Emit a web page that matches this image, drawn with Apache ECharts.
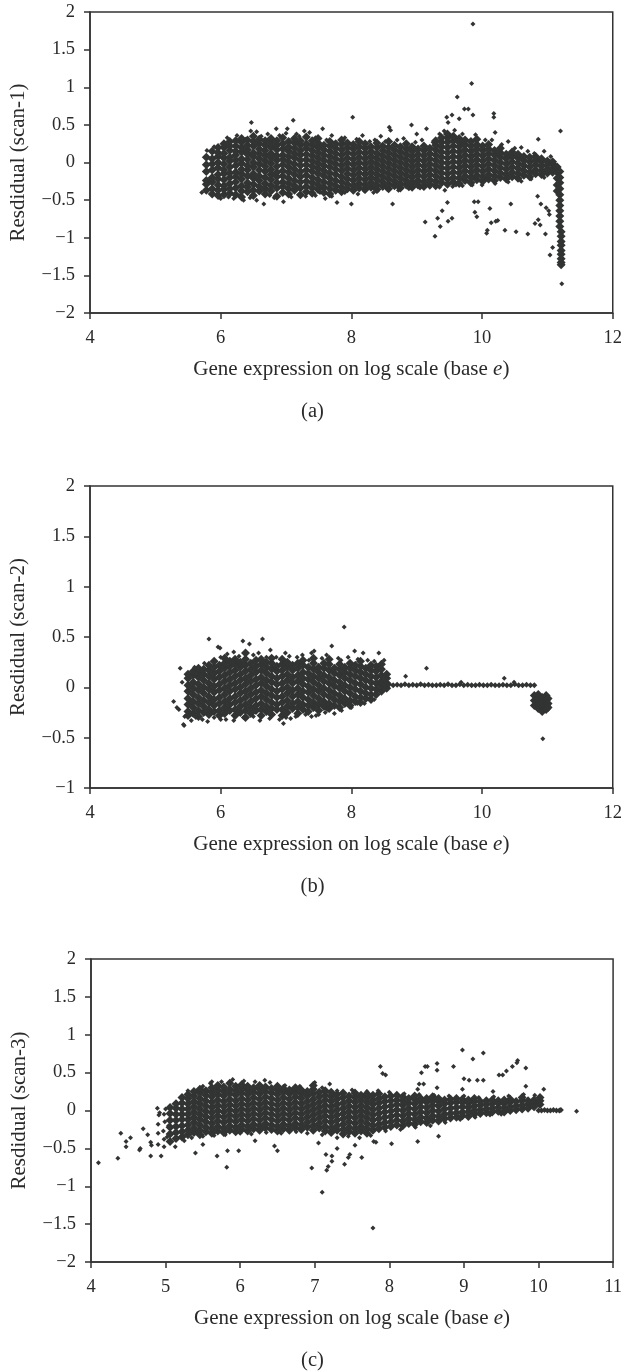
<!DOCTYPE html>
<html>
<head>
<meta charset="utf-8">
<style>
html,body{margin:0;padding:0;background:#fff;}
#chart{width:625px;height:1371px;}
</style>
<script src="https://cdn.jsdelivr.net/npm/echarts@6/dist/echarts.min.js"></script>
</head>
<body>
<div id="chart"></div>
<script>
// ---------- Panel (a): scan-1 ----------
const xTicksA = [4, 6, 8, 10, 12];
const yTicksA = [-2, -1.5, -1, -0.5, 0, 0.5, 1, 1.5, 2];
// dense cloud, columns of [x, [residuals...]]
const cloudA = [
 [5.78,[-0.37,-0.29,-0.24,-0.12,-0.03,0.07]],
 [5.87,[-0.42,-0.35,-0.26,-0.2,-0.1,-0.02,0.05,0.15]],
 [5.96,[-0.44,-0.37,-0.3,-0.22,-0.16,-0.07,0.0,0.08,0.13,0.2]],
 [6.05,[-0.43,-0.36,-0.31,-0.23,-0.15,-0.1,-0.02,0.06,0.12,0.2,0.25]],
 [6.14,[-0.41,-0.35,-0.28,-0.2,-0.14,-0.06,0.02,0.07,0.16,0.22,0.28]],
 [6.23,[-0.43,-0.34,-0.26,-0.19,-0.13,-0.04,0.03,0.1,0.15,0.22,0.29]],
 [6.32,[-0.46,-0.38,-0.31,-0.22,-0.15,-0.09,-0.01,0.05,0.14,0.2,0.27,0.32]],
 [6.41,[-0.39,-0.33,-0.27,-0.18,-0.1,-0.04,0.04,0.11,0.17,0.23,0.3]],
 [6.5,[-0.44,-0.37,-0.29,-0.21,-0.15,-0.06,0.0,0.08,0.13,0.22,0.28,0.35]],
 [6.59,[-0.38,-0.32,-0.24,-0.18,-0.1,-0.02,0.05,0.12,0.18,0.25,0.31]],
 [6.68,[-0.42,-0.35,-0.28,-0.2,-0.12,-0.05,0.02,0.09,0.16,0.23,0.29]],
 [6.77,[-0.38,-0.31,-0.23,-0.16,-0.09,-0.01,0.06,0.12,0.2,0.26,0.32]],
 [6.86,[-0.45,-0.34,-0.27,-0.19,-0.13,-0.05,0.03,0.09,0.17,0.23,0.29]],
 [6.95,[-0.4,-0.32,-0.26,-0.18,-0.11,-0.03,0.04,0.1,0.18,0.25,0.33]],
 [7.04,[-0.42,-0.35,-0.28,-0.21,-0.13,-0.06,0.01,0.08,0.15,0.21,0.28]],
 [7.13,[-0.37,-0.31,-0.24,-0.16,-0.09,-0.02,0.06,0.12,0.19,0.26,0.32]],
 [7.22,[-0.43,-0.34,-0.26,-0.19,-0.12,-0.04,0.03,0.1,0.16,0.23,0.29]],
 [7.31,[-0.39,-0.32,-0.25,-0.17,-0.1,-0.03,0.04,0.11,0.19,0.25,0.34]],
 [7.4,[-0.41,-0.34,-0.27,-0.2,-0.12,-0.05,0.02,0.09,0.16,0.23,0.29]],
 [7.49,[-0.36,-0.3,-0.23,-0.15,-0.08,-0.01,0.06,0.13,0.2,0.26,0.32]],
 [7.58,[-0.4,-0.33,-0.26,-0.18,-0.11,-0.04,0.03,0.1,0.17,0.23]],
 [7.67,[-0.42,-0.35,-0.28,-0.21,-0.14,-0.06,0.01,0.08,0.15,0.22,0.28]],
 [7.76,[-0.37,-0.31,-0.24,-0.16,-0.09,-0.02,0.05,0.12,0.19,0.25]],
 [7.85,[-0.39,-0.33,-0.26,-0.19,-0.11,-0.04,0.03,0.1,0.17,0.24,0.3]],
 [7.94,[-0.35,-0.29,-0.22,-0.15,-0.08,-0.01,0.06,0.13,0.2,0.26]],
 [8.03,[-0.37,-0.31,-0.24,-0.17,-0.1,-0.03,0.04,0.11,0.18,0.24]],
 [8.12,[-0.34,-0.28,-0.21,-0.14,-0.07,0.0,0.07,0.14,0.21,0.28]],
 [8.21,[-0.36,-0.3,-0.23,-0.16,-0.09,-0.02,0.05,0.12,0.19,0.25]],
 [8.3,[-0.33,-0.27,-0.2,-0.13,-0.06,0.01,0.08,0.15,0.21]],
 [8.39,[-0.36,-0.3,-0.23,-0.16,-0.09,-0.02,0.05,0.12,0.2,0.26]],
 [8.48,[-0.32,-0.26,-0.19,-0.12,-0.05,0.02,0.09,0.16,0.22]],
 [8.57,[-0.35,-0.29,-0.22,-0.15,-0.08,-0.01,0.06,0.13,0.2,0.28]],
 [8.66,[-0.31,-0.25,-0.18,-0.11,-0.04,0.03,0.1,0.17,0.23]],
 [8.75,[-0.34,-0.28,-0.21,-0.14,-0.07,0.0,0.07,0.14,0.21]],
 [8.84,[-0.3,-0.24,-0.17,-0.1,-0.03,0.04,0.11,0.18,0.25]],
 [8.93,[-0.33,-0.27,-0.2,-0.13,-0.06,0.01,0.08,0.15,0.21]],
 [9.02,[-0.3,-0.24,-0.17,-0.1,-0.03,0.04,0.11,0.18]],
 [9.11,[-0.32,-0.26,-0.19,-0.12,-0.05,0.02,0.09,0.16,0.22]],
 [9.2,[-0.29,-0.23,-0.16,-0.09,-0.02,0.05,0.12,0.19]],
 [9.29,[-0.31,-0.25,-0.18,-0.11,-0.04,0.03,0.1,0.17,0.23,0.29]],
 [9.38,[-0.27,-0.21,-0.14,-0.07,0.0,0.07,0.14,0.21,0.27,0.33]],
 [9.47,[-0.29,-0.22,-0.15,-0.08,-0.01,0.06,0.13,0.2,0.27,0.33,0.38]],
 [9.56,[-0.26,-0.2,-0.13,-0.06,0.01,0.08,0.15,0.22,0.29,0.35]],
 [9.65,[-0.28,-0.21,-0.14,-0.07,0.0,0.07,0.14,0.21,0.27,0.32]],
 [9.74,[-0.24,-0.18,-0.11,-0.04,0.03,0.1,0.17,0.24,0.3]],
 [9.83,[-0.27,-0.2,-0.13,-0.06,0.01,0.08,0.15,0.22,0.28]],
 [9.92,[-0.23,-0.17,-0.1,-0.03,0.04,0.11,0.18,0.24,0.31]],
 [10.01,[-0.25,-0.19,-0.12,-0.05,0.02,0.09,0.16,0.22]],
 [10.1,[-0.22,-0.16,-0.09,-0.02,0.05,0.12,0.18,0.24]],
 [10.19,[-0.24,-0.18,-0.11,-0.04,0.03,0.1,0.16]],
 [10.28,[-0.2,-0.14,-0.07,0.0,0.07,0.13,0.19]],
 [10.37,[-0.22,-0.16,-0.09,-0.02,0.05,0.11]],
 [10.46,[-0.19,-0.13,-0.06,0.01,0.08,0.14]],
 [10.55,[-0.21,-0.15,-0.08,-0.01,0.06,0.11]],
 [10.64,[-0.17,-0.11,-0.04,0.03,0.08]],
 [10.73,[-0.19,-0.13,-0.06,0.01,0.07]],
 [10.82,[-0.15,-0.1,-0.03,0.03,0.08]],
 [10.91,[-0.16,-0.11,-0.05,0.01,0.05]],
 [11.0,[-0.14,-0.09,-0.03,0.02]],
 [11.08,[-0.13,-0.08,-0.02,0.01]],
 [11.15,[-0.06,-0.13,-0.21,-0.3,-0.38]],
 [11.19,[-0.12,-0.2,-0.27,-0.35,-0.43,-0.5,-0.57,-0.64,-0.71,-0.78,-0.85]],
 [11.21,[-0.92,-0.98,-1.05,-1.1,-1.17,-1.22,-1.28,-1.33,-1.36]]
];
// ragged edge of the cloud
const fringeA = [
 [6.1,0.33],[6.25,0.36],[6.38,0.31],[6.55,0.41],[6.62,0.35],[6.72,0.38],[6.9,0.36],
 [7.0,0.39],[7.2,0.35],[7.36,0.4],[7.45,0.33],[7.62,0.3],[7.7,0.36],[7.9,0.33],
 [8.08,0.31],[8.17,0.36],[8.28,0.28],[8.36,0.3],[8.52,0.28],[8.7,0.3],[8.8,0.32],
 [8.98,0.27],[9.08,0.3],[9.25,0.27],[9.35,0.38],[9.42,0.42],[9.58,0.43],[9.7,0.38],
 [9.9,0.37],[10.05,0.3],[10.15,0.3],[10.3,0.24],[10.5,0.19],[10.7,0.15],[10.8,0.12],
 [11.05,0.08],
 [6.0,-0.48],[6.12,-0.46],[6.28,-0.44],[6.45,-0.47],[6.55,-0.5],[6.75,-0.44],[6.82,-0.47],
 [7.08,-0.46],[7.2,-0.43],[7.45,-0.44],[7.52,-0.4],[7.7,-0.45],[7.9,-0.4],[8.1,-0.42],
 [8.2,-0.38],[8.4,-0.38],[8.55,-0.36],[8.72,-0.37],[8.88,-0.35],[9.05,-0.34],[9.2,-0.33],
 [9.35,-0.33],[9.55,-0.32],[9.7,-0.31],[9.85,-0.3],[10.0,-0.3],[10.2,-0.28],[10.4,-0.26],
 [10.6,-0.25],[10.75,-0.22],[10.95,-0.2]
];
const outA = [
 [5.71,-0.40],[5.79,0.16],[5.83,-0.23],[5.9,0.21],[5.95,0.2],[6.2,-0.48],[6.35,-0.5],
 [6.47,0.53],[6.46,0.42],[6.66,-0.55],[6.96,-0.52],[6.85,0.45],[7.02,0.45],[7.11,0.56],
 [7.16,0.38],[7.28,0.42],[7.3,-0.45],[7.56,0.45],[7.6,-0.48],[7.78,-0.53],[8.02,0.6],
 [8.0,-0.55],[8.34,-0.4],[8.45,0.35],[8.58,0.47],[8.6,0.43],[8.63,-0.55],[8.92,0.5],
 [9.0,0.38],[9.15,0.45],[9.46,0.6],[9.48,0.53],[9.54,0.63],[9.62,0.87],[9.65,0.58],
 [9.73,0.71],[9.79,0.71],[9.84,1.05],[9.86,1.84],[9.86,0.63],[10.18,0.65],[10.18,0.6],
 [10.2,0.4],[10.4,0.28],[10.6,0.2],[10.86,0.31],[10.95,0.15],[11.2,0.42],
 [9.13,-0.79],[9.28,-0.98],[9.32,-0.74],[9.36,-0.85],[9.39,-0.64],[9.47,-0.53],
 [9.48,-0.78],[9.54,-0.74],[9.43,-0.37],[9.6,-0.3],[9.88,-0.52],[9.94,-0.52],[9.89,-0.66],
 [9.92,-0.72],[10.12,-0.61],[10.07,-0.94],[10.08,-0.9],[10.14,-0.8],[10.21,-0.78],
 [10.24,-0.77],[10.35,-0.9],[10.52,-0.92],[10.44,-0.55],[10.7,-0.95],[10.85,-0.45],
 [10.9,-0.55],[10.81,-0.81],[10.86,-0.76],[10.89,-0.83],[10.97,-0.95],[10.98,-0.6],
 [11.02,-0.64],[11.03,-0.69],[11.04,-1.23],[11.08,-1.13],[11.22,-1.61]
];

// ---------- Panel (b): scan-2 ----------
const xTicksB = [4, 6, 8, 10, 12];
const yTicksB = [-1, -0.5, 0, 0.5, 1, 1.5, 2];
const cloudB = [
 [5.5,[-0.28,-0.24,-0.17,-0.11,-0.04,0.02,0.09,0.13]],
 [5.58,[-0.26,-0.2,-0.14,-0.07,-0.01,0.05,0.12,0.16]],
 [5.66,[-0.29,-0.23,-0.16,-0.1,-0.03,0.03,0.1,0.15,0.19]],
 [5.74,[-0.25,-0.19,-0.13,-0.06,0.0,0.07,0.13,0.18]],
 [5.82,[-0.27,-0.22,-0.15,-0.09,-0.02,0.04,0.11,0.17,0.22]],
 [5.9,[-0.24,-0.18,-0.12,-0.05,0.01,0.08,0.14,0.2,0.26]],
 [5.98,[-0.28,-0.23,-0.16,-0.1,-0.03,0.03,0.1,0.16,0.22]],
 [6.06,[-0.26,-0.2,-0.14,-0.07,-0.01,0.06,0.12,0.19,0.24,0.29]],
 [6.14,[-0.23,-0.17,-0.11,-0.04,0.02,0.08,0.15,0.21,0.26]],
 [6.22,[-0.28,-0.22,-0.15,-0.09,-0.02,0.04,0.11,0.17,0.23,0.28]],
 [6.3,[-0.25,-0.19,-0.13,-0.06,0.0,0.07,0.13,0.2,0.25]],
 [6.38,[-0.3,-0.23,-0.17,-0.1,-0.04,0.03,0.09,0.16,0.22,0.28,0.34]],
 [6.46,[-0.26,-0.2,-0.14,-0.07,-0.01,0.06,0.12,0.18,0.24]],
 [6.54,[-0.23,-0.18,-0.11,-0.05,0.02,0.08,0.15,0.21,0.27]],
 [6.62,[-0.28,-0.22,-0.16,-0.09,-0.03,0.04,0.1,0.17,0.23,0.28]],
 [6.7,[-0.24,-0.19,-0.12,-0.06,0.01,0.07,0.14,0.2,0.25]],
 [6.78,[-0.27,-0.21,-0.15,-0.08,-0.02,0.05,0.11,0.18,0.24,0.29]],
 [6.86,[-0.22,-0.17,-0.1,-0.04,0.03,0.09,0.16,0.21]],
 [6.94,[-0.28,-0.22,-0.15,-0.09,-0.02,0.04,0.11,0.17,0.23,0.28]],
 [7.02,[-0.25,-0.19,-0.13,-0.06,0.0,0.07,0.13,0.2,0.25]],
 [7.1,[-0.21,-0.16,-0.09,-0.03,0.04,0.1,0.17,0.22]],
 [7.18,[-0.26,-0.2,-0.14,-0.07,-0.01,0.06,0.12,0.19,0.24]],
 [7.26,[-0.22,-0.17,-0.1,-0.04,0.03,0.09,0.15,0.22,0.27]],
 [7.34,[-0.24,-0.18,-0.12,-0.05,0.01,0.08,0.14,0.2]],
 [7.42,[-0.2,-0.15,-0.08,-0.02,0.05,0.11,0.18,0.24,0.29]],
 [7.5,[-0.23,-0.17,-0.11,-0.04,0.02,0.09,0.15,0.2]],
 [7.58,[-0.19,-0.14,-0.07,-0.01,0.06,0.12,0.19,0.24]],
 [7.66,[-0.21,-0.16,-0.09,-0.03,0.04,0.1,0.17,0.23,0.28]],
 [7.74,[-0.18,-0.12,-0.06,0.01,0.07,0.14,0.19]],
 [7.82,[-0.2,-0.14,-0.08,-0.01,0.05,0.12,0.18,0.23]],
 [7.9,[-0.16,-0.11,-0.04,0.02,0.09,0.15,0.2]],
 [7.98,[-0.18,-0.13,-0.06,0.0,0.07,0.13,0.19,0.24]],
 [8.06,[-0.14,-0.09,-0.02,0.04,0.11,0.17,0.22]],
 [8.14,[-0.15,-0.1,-0.04,0.03,0.09,0.15,0.21,0.26]],
 [8.22,[-0.11,-0.06,0.0,0.07,0.13,0.19]],
 [8.3,[-0.12,-0.07,-0.01,0.05,0.11,0.17,0.22]],
 [8.38,[-0.07,-0.02,0.04,0.1,0.16,0.21]],
 [8.46,[-0.04,0.01,0.06,0.12,0.18,0.23]],
 [8.54,[-0.01,0.04,0.09,0.13]],
 [10.8,[-0.08,-0.13,-0.18]],
 [10.86,[-0.07,-0.12,-0.17,-0.21]],
 [10.92,[-0.1,-0.15,-0.2,-0.24]],
 [10.98,[-0.08,-0.13,-0.18,-0.22]],
 [11.01,[-0.11,-0.16,-0.2]]
];
const fringeB = [
 [5.6,0.2],[5.75,0.24],[6.0,0.3],[6.1,0.33],[6.28,0.31],[6.5,0.32],[6.58,0.34],[6.7,0.3],
 [6.85,0.3],[7.05,0.31],[7.25,0.32],[7.35,0.27],[7.55,0.29],[7.62,0.32],[7.8,0.29],
 [7.95,0.3],[8.1,0.28],[8.25,0.27],[8.35,0.26],[8.5,0.27],
 [5.55,-0.33],[5.62,-0.3],[5.72,-0.32],[5.9,-0.3],[6.0,-0.32],[6.2,-0.33],[6.35,-0.3],
 [6.5,-0.29],[6.6,-0.33],[6.75,-0.31],[6.9,-0.32],[7.0,-0.3],[7.15,-0.29],[7.3,-0.27],
 [7.5,-0.27],[7.6,-0.25],[7.85,-0.23],[8.0,-0.2],[8.2,-0.16],[8.35,-0.12]
];
const bandB = [
 [8.58,0.03],[8.64,0.02],[8.7,0.025],[8.76,0.02],[8.82,0.03],[8.88,0.02],[8.94,0.025],
 [9.0,0.02],[9.06,0.03],[9.12,0.02],[9.18,0.025],[9.24,0.02],[9.3,0.02],[9.36,0.025],
 [9.42,0.02],[9.48,0.03],[9.54,0.02],[9.6,0.02],[9.66,0.03],[9.72,0.02],[9.78,0.025],
 [9.84,0.02],[9.9,0.02],[9.96,0.025],[10.02,0.02],[10.08,0.02],[10.14,0.025],[10.2,0.02],
 [10.26,0.02],[10.32,0.025],[10.38,0.02],[10.44,0.02],[10.5,0.03],[10.56,0.02],[10.62,0.02],
 [10.68,0.025],[10.74,0.02],[10.8,0.02]
];
const outB = [
 [5.28,-0.14],[5.33,-0.2],[5.36,-0.22],[5.38,0.19],[5.41,0.05],[5.43,-0.37],[5.44,-0.38],
 [5.45,-0.29],[5.82,0.48],[5.96,0.4],[5.99,0.39],[6.2,0.35],[6.34,0.46],[6.44,0.43],
 [6.64,0.48],[6.76,0.37],[6.99,0.34],[7.17,0.3],[7.39,0.34],[7.43,0.36],[7.7,0.41],
 [7.84,0.27],[7.89,0.6],[8.05,0.36],[8.18,0.34],[8.42,0.34],[5.8,-0.34],[6.08,-0.32],
 [6.27,-0.26],[6.96,-0.36],[7.07,-0.31],[7.39,-0.29],[7.46,-0.28],[7.63,-0.22],
 [7.74,-0.26],[7.93,-0.16],[8.09,-0.16],[8.83,0.11],[9.15,0.19],[9.68,0.05],
 [10.34,0.09],[10.49,0.05],[10.93,-0.51]
];

// ---------- Panel (c): scan-3 ----------
const xTicksC = [4, 5, 6, 7, 8, 9, 10, 11];
const yTicksC = [-2, -1.5, -1, -0.5, 0, 0.5, 1, 1.5, 2];
const cloudC = [
 [5.06,[-0.41,-0.31,-0.22,-0.13,-0.04,0.04]],
 [5.14,[-0.37,-0.29,-0.21,-0.13,-0.05,0.03,0.09]],
 [5.22,[-0.35,-0.28,-0.2,-0.12,-0.05,0.02,0.1,0.17]],
 [5.3,[-0.32,-0.26,-0.19,-0.12,-0.05,0.02,0.09,0.16,0.21]],
 [5.38,[-0.29,-0.23,-0.16,-0.09,-0.02,0.05,0.12,0.19,0.25]],
 [5.46,[-0.32,-0.26,-0.19,-0.12,-0.05,0.02,0.09,0.16,0.23,0.28]],
 [5.54,[-0.28,-0.22,-0.15,-0.08,-0.01,0.06,0.13,0.2,0.26]],
 [5.62,[-0.3,-0.24,-0.17,-0.1,-0.03,0.04,0.11,0.18,0.24,0.3]],
 [5.7,[-0.27,-0.21,-0.14,-0.07,0.0,0.07,0.14,0.21,0.27,0.33]],
 [5.78,[-0.29,-0.23,-0.16,-0.09,-0.02,0.05,0.12,0.19,0.25,0.31]],
 [5.86,[-0.26,-0.2,-0.13,-0.06,0.01,0.08,0.15,0.22,0.28,0.36]],
 [5.94,[-0.28,-0.22,-0.15,-0.08,-0.01,0.06,0.13,0.2,0.26,0.32]],
 [6.02,[-0.25,-0.19,-0.12,-0.05,0.02,0.09,0.16,0.23,0.29,0.34]],
 [6.1,[-0.27,-0.21,-0.14,-0.07,0.0,0.07,0.14,0.21,0.27,0.32]],
 [6.18,[-0.24,-0.18,-0.11,-0.04,0.03,0.1,0.17,0.24,0.3]],
 [6.26,[-0.26,-0.2,-0.13,-0.06,0.01,0.08,0.15,0.22,0.28,0.33]],
 [6.34,[-0.23,-0.17,-0.1,-0.03,0.04,0.11,0.18,0.25,0.31]],
 [6.42,[-0.25,-0.19,-0.12,-0.05,0.02,0.09,0.16,0.23,0.29]],
 [6.5,[-0.27,-0.21,-0.14,-0.07,0.0,0.07,0.14,0.21,0.27,0.32]],
 [6.58,[-0.24,-0.18,-0.11,-0.04,0.03,0.1,0.17,0.24,0.29]],
 [6.66,[-0.26,-0.2,-0.13,-0.06,0.01,0.08,0.15,0.22,0.27]],
 [6.74,[-0.23,-0.17,-0.1,-0.03,0.04,0.11,0.18,0.24,0.3]],
 [6.82,[-0.25,-0.19,-0.12,-0.05,0.02,0.09,0.16,0.22,0.27]],
 [6.9,[-0.22,-0.16,-0.09,-0.02,0.05,0.12,0.19,0.25]],
 [6.98,[-0.26,-0.2,-0.13,-0.06,0.01,0.08,0.15,0.22,0.28,0.33]],
 [7.06,[-0.23,-0.17,-0.1,-0.03,0.04,0.11,0.18,0.24]],
 [7.14,[-0.27,-0.21,-0.14,-0.07,0.0,0.07,0.14,0.2,0.26]],
 [7.22,[-0.29,-0.23,-0.16,-0.09,-0.02,0.05,0.12,0.18,0.24]],
 [7.3,[-0.26,-0.2,-0.13,-0.06,0.01,0.08,0.15,0.21]],
 [7.38,[-0.31,-0.25,-0.18,-0.11,-0.04,0.03,0.1,0.17,0.23]],
 [7.46,[-0.28,-0.22,-0.15,-0.08,-0.01,0.06,0.13,0.19]],
 [7.54,[-0.3,-0.24,-0.17,-0.1,-0.03,0.04,0.11,0.17,0.23]],
 [7.62,[-0.27,-0.21,-0.14,-0.07,0.0,0.07,0.14,0.2]],
 [7.7,[-0.3,-0.24,-0.17,-0.1,-0.03,0.04,0.11,0.17,0.22]],
 [7.78,[-0.26,-0.2,-0.13,-0.06,0.01,0.08,0.14,0.2]],
 [7.86,[-0.24,-0.18,-0.11,-0.04,0.03,0.1,0.16,0.22]],
 [7.94,[-0.22,-0.16,-0.09,-0.02,0.05,0.12,0.18]],
 [8.02,[-0.21,-0.15,-0.08,-0.01,0.06,0.13,0.19]],
 [8.1,[-0.19,-0.13,-0.06,0.01,0.08,0.14,0.2]],
 [8.18,[-0.2,-0.14,-0.07,0.0,0.07,0.13,0.18]],
 [8.26,[-0.17,-0.11,-0.04,0.03,0.1,0.16]],
 [8.34,[-0.18,-0.12,-0.05,0.02,0.09,0.15,0.19]],
 [8.42,[-0.15,-0.09,-0.02,0.05,0.12,0.16]],
 [8.5,[-0.16,-0.1,-0.03,0.04,0.11,0.16]],
 [8.58,[-0.13,-0.07,0.0,0.07,0.13,0.18]],
 [8.66,[-0.14,-0.08,-0.01,0.06,0.12,0.16]],
 [8.74,[-0.11,-0.05,0.02,0.09,0.14]],
 [8.82,[-0.1,-0.04,0.03,0.1,0.15]],
 [8.9,[-0.09,-0.03,0.04,0.11,0.16]],
 [8.98,[-0.07,-0.02,0.05,0.11,0.15]],
 [9.06,[-0.08,-0.02,0.04,0.1,0.14]],
 [9.14,[-0.05,0.0,0.06,0.12,0.16]],
 [9.22,[-0.04,0.01,0.07,0.12]],
 [9.3,[-0.03,0.02,0.08,0.13]],
 [9.38,[-0.02,0.03,0.09,0.14]],
 [9.46,[-0.01,0.04,0.1,0.13]],
 [9.54,[-0.02,0.03,0.09,0.14]],
 [9.62,[0.0,0.05,0.11,0.15]],
 [9.7,[0.01,0.06,0.12]],
 [9.78,[0.02,0.07,0.13,0.17]],
 [9.86,[0.03,0.08,0.13]],
 [9.94,[0.05,0.1,0.14]],
 [10.02,[0.08,0.13,0.17]]
];
const fringeC = [
 [4.9,-0.45],[4.9,-0.3],[4.9,-0.18],[4.91,-0.06],[4.98,-0.48],[4.98,-0.38],[4.97,-0.27],
 [4.99,-0.15],[4.98,-0.05],[5.0,0.02],[5.02,-0.35],[5.04,-0.2],
 [5.3,0.26],[5.5,0.32],[5.6,0.36],[5.75,0.38],[5.9,0.41],[6.05,0.39],[6.2,0.38],[6.4,0.37],
 [6.6,0.33],[6.8,0.32],[7.0,0.37],[7.1,0.3],[7.3,0.26],[7.5,0.27],[7.7,0.25],[7.85,0.26],
 [8.0,0.24],[8.2,0.22],[8.4,0.21],[8.6,0.2],[8.8,0.19],[9.0,0.19],[9.2,0.17],[9.4,0.18],
 [9.6,0.19],[9.8,0.21],[9.95,0.2],
 [5.25,-0.4],[5.35,-0.36],[5.5,-0.34],[5.65,-0.33],[5.8,-0.32],[6.0,-0.3],[6.15,-0.31],
 [6.35,-0.29],[6.55,-0.3],[6.75,-0.28],[6.9,-0.3],[7.1,-0.32],[7.3,-0.36],[7.45,-0.34],
 [7.6,-0.36],[7.75,-0.33],[7.95,-0.27],[8.15,-0.25],[8.35,-0.22],[8.55,-0.2],[8.75,-0.16],
 [8.95,-0.12],[9.15,-0.09],[9.35,-0.06],[9.5,-0.05]
];
const bandC = [
 [10.0,0.0],[10.04,0.0],[10.08,0.005],[10.12,0.0],[10.16,0.0],[10.2,0.005],
 [10.24,0.0],[10.28,0.0],[10.3,0.005]
];
const outC = [
 [4.1,-0.69],[4.36,-0.63],[4.4,-0.3],[4.47,-0.41],[4.47,-0.48],[4.53,-0.36],[4.65,-0.52],
 [4.66,-0.5],[4.7,-0.24],[4.76,-0.32],[4.8,-0.42],[4.81,-0.46],[4.8,-0.6],[4.94,-0.6],
 [4.92,-0.03],[4.89,0.03],[5.13,-0.48],[5.4,-0.56],[5.69,-0.6],[5.82,-0.75],[5.83,-0.53],
 [5.98,-0.53],[5.5,-0.45],[6.46,-0.47],[6.5,-0.53],[6.2,-0.4],[6.96,-0.76],[7.1,-1.08],
 [7.05,-0.43],[7.15,-0.58],[7.16,-0.79],[7.18,-0.74],[7.23,-0.67],[7.23,-0.6],[7.3,-0.5],
 [7.4,-0.71],[7.45,-0.62],[7.47,-0.58],[7.63,-0.62],[7.78,-1.55],[7.54,-0.46],
 [7.79,-0.41],[7.82,-0.42],[8.03,-0.44],[8.38,-0.41],[8.66,-0.34],
 [8.98,0.8],[9.12,0.68],[9.26,0.76],[8.86,0.58],[9.0,0.42],[9.07,0.4],[9.18,0.4],
 [9.26,0.4],[8.98,0.28],[7.88,0.58],[7.91,0.49],[7.95,0.47],[8.48,0.58],[8.51,0.58],
 [8.43,0.5],[8.64,0.62],[8.64,0.53],[8.4,0.35],[8.46,0.35],[8.38,0.28],[8.64,0.3],
 [9.47,0.47],[9.52,0.47],[9.57,0.52],[9.65,0.58],[9.71,0.63],[9.72,0.66],[9.83,0.56],
 [9.83,0.32],[10.07,0.28],[9.39,0.25],[7.2,0.35],[6.33,0.4],[5.62,0.38],[10.51,-0.01]
];

function flat(cols) {
  const out = [];
  cols.forEach(function (c) { c[1].forEach(function (y) { out.push([c[0], y]); }); });
  return out;
}

const FONT = 'Liberation Serif';
const TXT = '#2a2a2a';
const INK = '#323333';

function minusFmt(v) {
  return v < 0 ? '\u2212' + String(Math.abs(v)) : String(v);
}

function makeX(idx, ticks) {
  return {
    type: 'value', gridIndex: idx,
    min: ticks[0], max: ticks[ticks.length - 1], interval: ticks[1] - ticks[0],
    splitLine: { show: false },
    axisLine: { show: true, onZero: false, lineStyle: { color: '#333', width: 1.5 } },
    axisTick: { show: true, inside: false, length: 6, lineStyle: { color: '#333', width: 1.5 } },
    axisLabel: { color: TXT, fontFamily: FONT, fontSize: 18.5, margin: 16, showMaxLabel: true, showMinLabel: true },
    name: '{n|Gene expression on log scale (base }{i|e}{n|)}',
    nameLocation: 'middle', nameGap: 46,
    nameTextStyle: {
      rich: {
        n: { fontFamily: FONT, fontSize: 21, color: TXT },
        i: { fontFamily: FONT, fontSize: 21, color: TXT, fontStyle: 'italic' }
      }
    }
  };
}
function makeY(idx, ticks, name) {
  return {
    type: 'value', gridIndex: idx,
    min: ticks[0], max: ticks[ticks.length - 1], interval: 0.5,
    splitLine: { show: false },
    axisLine: { show: true, onZero: false, lineStyle: { color: '#333', width: 1.5 } },
    axisTick: { show: true, inside: false, length: 6, lineStyle: { color: '#333', width: 1.5 } },
    axisLabel: { color: TXT, fontFamily: FONT, fontSize: 18.5, margin: 15, formatter: minusFmt },
    name: name, nameLocation: 'middle', nameGap: 61,
    nameTextStyle: { fontFamily: FONT, fontSize: 21, color: TXT }
  };
}
function scat(idx, data, size) {
  return {
    type: 'scatter', xAxisIndex: idx, yAxisIndex: idx, data: data,
    symbol: 'diamond', symbolSize: size, silent: true, animation: false,
    itemStyle: { color: INK, opacity: 1 }
  };
}

const chart = echarts.init(document.getElementById('chart'), null, { renderer: 'canvas' });
const LBL = { fontFamily: FONT, fontSize: 20.5, fontWeight: 'normal', color: TXT };
chart.setOption({
  backgroundColor: '#fff',
  animation: false,
  title: [
    { text: '(a)', left: 'center', top: 396, textStyle: LBL },
    { text: '(b)', left: 'center', top: 871, textStyle: LBL },
    { text: '(c)', left: 'center', top: 1345, textStyle: LBL }
  ],
  grid: [
    { left: 89, top: 12, width: 525, height: 301, show: true, borderColor: '#333', borderWidth: 1.5, backgroundColor: 'transparent' },
    { left: 89, top: 486, width: 525, height: 302, show: true, borderColor: '#333', borderWidth: 1.5, backgroundColor: 'transparent' },
    { left: 91, top: 959, width: 525, height: 303, show: true, borderColor: '#333', borderWidth: 1.5, backgroundColor: 'transparent' }
  ],
  xAxis: [makeX(0, xTicksA), makeX(1, xTicksB), makeX(2, xTicksC)],
  yAxis: [makeY(0, yTicksA, 'Resdidual (scan-1)'), makeY(1, yTicksB, 'Resdidual (scan-2)'), makeY(2, yTicksC, 'Resdidual (scan-3)')],
  series: [
    scat(0, flat(cloudA), 9), scat(0, fringeA, 5), scat(0, outA, 5),
    scat(1, flat(cloudB), 9), scat(1, fringeB, 5), scat(1, bandB, 6), scat(1, outB, 5),
    scat(2, flat(cloudC), 9), scat(2, fringeC, 5), scat(2, bandC, 6), scat(2, outC, 5)
  ]
});
</script>
</body>
</html>
